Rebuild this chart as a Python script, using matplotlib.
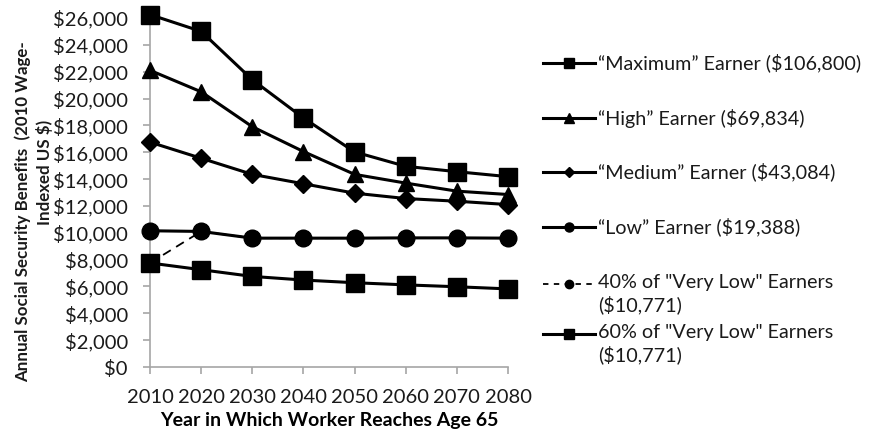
import matplotlib
matplotlib.use("Agg")
import matplotlib.pyplot as plt
from matplotlib.lines import Line2D
from matplotlib.ticker import FuncFormatter

plt.rcParams['font.family'] = ['Lato', 'DejaVu Sans']

years = [2010, 2020, 2030, 2040, 2050, 2060, 2070, 2080]
maximum = [26250, 25000, 21400, 18550, 16020, 14950, 14550, 14180]
high = [22100, 20500, 17900, 16050, 14350, 13700, 13100, 12850]
medium = [16750, 15550, 14350, 13650, 12950, 12550, 12350, 12100]
low = [10150, 10100, 9600, 9600, 9600, 9620, 9620, 9600]
very_low_40 = [7750, 10100, 9600, 9600, 9600, 9620, 9620, 9600]
very_low_60 = [7750, 7250, 6750, 6480, 6280, 6120, 5980, 5820]

labels = ['\u201cMaximum\u201d Earner ($106,800)',
          '\u201cHigh\u201d Earner ($69,834)',
          '\u201cMedium\u201d Earner ($43,084)',
          '\u201cLow\u201d Earner ($19,388)',
          '40% of "Very Low" Earners\n($10,771)',
          '60% of "Very Low" Earners\n($10,771)']
ylabel_lines = ['Annual Social Security Benefits  (2010 Wage-', 'Indexed US $)']
xlabel = 'Year in Which Worker Reaches Age 65'

fig = plt.figure(figsize=(8.7, 4.38), dpi=100)
ax = fig.add_axes([0.1724, 0.162, 0.584 - 0.1724, 0.959 - 0.162])

lw = 2.2
ax.plot(years, very_low_40, color='black', lw=1.3, ls=(0, (5, 3.5)), marker='o', ms=11, zorder=2, clip_on=False)
ax.plot(years, very_low_60, color='black', lw=lw, marker='s', ms=12.5, zorder=3, clip_on=False)
ax.plot(years, low, color='black', lw=lw, marker='o', ms=12, zorder=3, clip_on=False)
ax.plot(years, medium, color='black', lw=lw, marker='D', ms=9, zorder=3, clip_on=False)
ax.plot(years, high, color='black', lw=lw, marker='^', ms=12, zorder=3, clip_on=False)
ax.plot(years, maximum, color='black', lw=lw, marker='s', ms=12.5, zorder=4, clip_on=False)

ax.set_xlim(2010, 2080)
ax.set_ylim(0, 26000)
ax.set_xticks(years)
ax.set_yticks(range(0, 26001, 2000))
ax.yaxis.set_major_formatter(FuncFormatter(lambda v, p: '${:,.0f}'.format(v)))
for s in ['top', 'right']:
    ax.spines[s].set_visible(False)
for s in ['left', 'bottom']:
    ax.spines[s].set_color('#a6a6a6')
    ax.spines[s].set_linewidth(1.2)
ax.tick_params(axis='both', colors='#a6a6a6', labelcolor='#1a1a1a', labelsize=14.5, length=5, width=1.2)
ax.tick_params(axis='x', pad=11)
ax.tick_params(axis='y', pad=11)

ax.set_xlabel(xlabel, fontsize=14, fontweight='bold')
ax.xaxis.set_label_coords(0.5, -0.13)

W, H = 870.0, 438.0
def fx(px):
    return px / W
def fy(py):
    return 1 - py / H

fig.text(fx(23), fy(212), ylabel_lines[0], rotation=90, ha='center', va='center',
         fontsize=12.2, fontweight='bold', color='#1a1a1a')
fig.text(fx(45), fy(172), ylabel_lines[1], rotation=90, ha='center', va='center',
         fontsize=12.2, fontweight='bold', color='#1a1a1a')

# legend drawn manually
leg = [('s', 7, '-', 63, labels[0]),
       ('^', 7, '-', 118, labels[1]),
       ('D', 5.5, '-', 172, labels[2]),
       ('o', 6.5, '-', 227, labels[3]),
       ('o', 6, (0, (3, 3)), 284, labels[4]),
       ('s', 7, '-', 334, labels[5])]
for m, ms, ls, py, lab in leg:
    lwl = 1.3 if ls != '-' else lw
    fig.add_artist(Line2D([fx(543), fx(595)], [fy(py), fy(py)], color='black', lw=lwl, ls=ls,
                          transform=fig.transFigure))
    fig.add_artist(Line2D([fx(569)], [fy(py)], color='black', marker=m, ms=ms, ls='none',
                          transform=fig.transFigure))
    if '\n' in lab:
        fig.text(fx(598), fy(py - 10), lab, fontsize=14.2, va='top', ha='left', linespacing=1.25,
                 color='#1a1a1a')
    else:
        fig.text(fx(598), fy(py), lab, fontsize=14.2, va='center', ha='left', color='#1a1a1a')

fig.savefig('out.png', dpi=100)
